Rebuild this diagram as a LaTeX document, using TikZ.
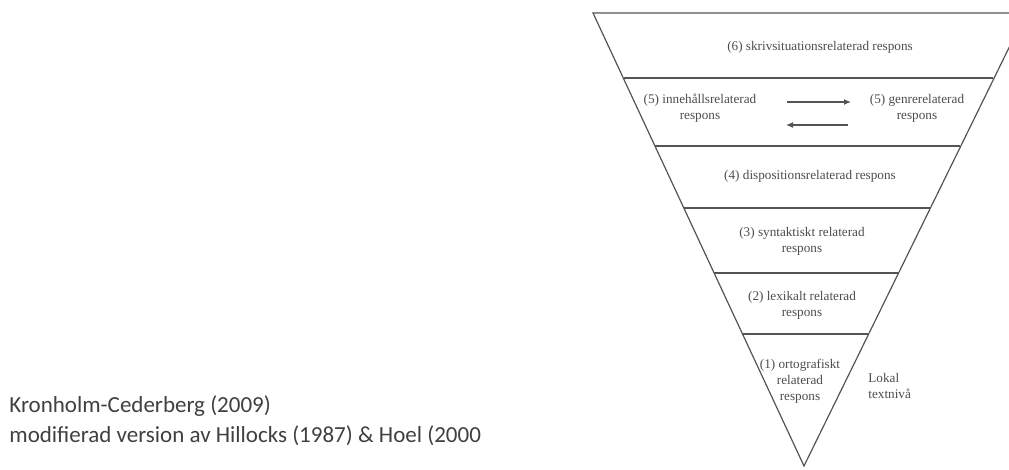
\documentclass[tikz,border=0pt]{standalone}
\usepackage{fontspec}
\setmainfont{Liberation Serif}
\newfontfamily\calibri{Carlito}
\usepackage{tikz}
\usetikzlibrary{arrows.meta}
\definecolor{linegray}{rgb}{0.33, 0.33, 0.33}
\definecolor{textgray}{rgb}{0.30, 0.30, 0.30}

\begin{document}
\begin{tikzpicture}[x=0.5pt, y=-0.5pt,
    level/.style={text=textgray, font=\fontsize{6.6}{8}\selectfont, align=center, inner sep=0pt},
    band/.style={draw=linegray, line width=0.6pt}]
            \useasboundingbox (0,0) rectangle (1009,470);
            \clip (0,0) rectangle (1009,470);

            % Triangel
            \coordinate (tl) at (593,13);
            \coordinate (tr) at (1026,13);
            \coordinate (apex) at (804,466);
            \draw[band] (tl) -- (tr) -- (apex) -- cycle;

            % Nivaer
            \draw[band] (623.6,78) -- (993.3,78);
            \draw[band] (655.2,146) -- (960.2,146);
            \draw[band] (684,208) -- (929.9,208);
            \draw[band] (714.3,273) -- (898.2,273);
            \draw[band] (742.6,334) -- (868.4,334);

            % Texter
            \node[level] (n6) at (820,47) {(6) skrivsituationsrelaterad respons};
            \node[level] (n5a) at (700,108) {(5) inneh\aa llsrelaterad\\respons};
            \node[level] (n5b) at (917,108) {(5) genrerelaterad\\respons};
            \node[level] (n4) at (810,176) {(4) dispositionsrelaterad respons};
            \node[level] (n3) at (802,241) {(3) syntaktiskt relaterad\\respons};
            \node[level] (n2) at (802,305) {(2) lexikalt relaterad\\respons};
            \node[level] (n1) at (800,381) {(1) ortografiskt\\relaterad\\respons};
            \node[level, align=left, anchor=west] (lokal) at (868,386) {Lokal\\textniv\aa};

            % Pilar
            \coordinate (p1) at (787,102);
            \coordinate (p2) at (851,102);
            \coordinate (p3) at (848,125);
            \coordinate (p4) at (786,125);
            \draw[linegray, line width=0.6pt, -{Latex[length=3.5pt, width=3pt]}] (p1) -- (p2);
            \draw[linegray, line width=0.6pt, -{Latex[length=3.5pt, width=3pt]}] (p3) -- (p4);

            % Kalla
            \node[anchor=north west, align=left, text=black!75, font=\calibri\fontsize{11.5}{15}\selectfont, inner sep=0pt] (kalla) at (9,395)
              {Kronholm-Cederberg (2009)\\modifierad version av Hillocks (1987) \& Hoel (2000};
        \end{tikzpicture}
\end{document}
